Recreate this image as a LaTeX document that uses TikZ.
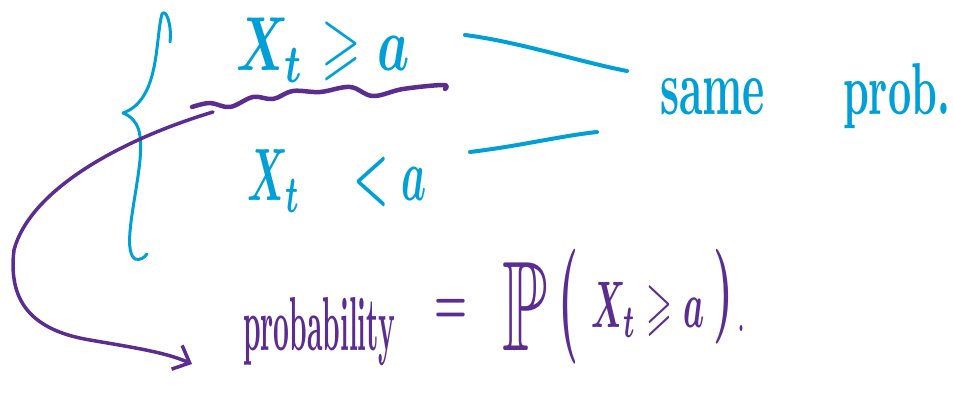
\documentclass[tikz,border=0pt]{standalone}
\usepackage{amssymb}
\usepackage{graphicx}
\usetikzlibrary{arrows.meta}
\definecolor{inkblue}{RGB}{0,160,215}
\definecolor{inkpurple}{RGB}{91,45,145}
\begin{document}
\begin{tikzpicture}[x=1pt,y=-1pt,
  txt/.style={inner sep=0pt, outer sep=0pt, draw=white, line width=0.1pt},
  bluetxt/.style={txt, text=inkblue},
  purpletxt/.style={txt, text=inkpurple},
  bluepen/.style={draw=inkblue, line cap=round, line join=round},
  purplepen/.style={draw=inkpurple, line cap=round, line join=round}]
\useasboundingbox (0,0) rectangle (953,409);

% blue texts
\node[bluetxt] (xge) at (323,50) {\resizebox*{173pt}{64pt}{\boldmath$X_t\geqslant a$}};
\node[bluetxt] (xlt) at (337.5,181) {\resizebox*{179pt}{62pt}{\boldmath$X_t\quad< a$}};
\node[bluetxt, anchor=base west] (same) at (660,115) {\resizebox{105pt}{36pt}{\bfseries same}};
\node[bluetxt, anchor=base west] (prob) at (843,115) {\resizebox{107pt}{51pt}{\bfseries prob.}};

% brace
\draw[bluepen, line width=3pt] (170,42) .. controls (172,25) and (166,8) .. (162,14)
  .. controls (155,40) and (160,100) .. (123,113)
  .. controls (140,120) and (142,135) .. (140,160)
  .. controls (136,200) and (122,250) .. (135,259)
  .. controls (140,261) and (145,257) .. (147,254);

% connector lines to "same prob."
\coordinate (l1a) at (465,35);
\coordinate (l1b) at (627,71);
\coordinate (l2a) at (470,152);
\coordinate (l2b) at (597,132);
\draw[bluepen, line width=4pt] (l1a) .. controls (520,42) and (580,62) .. (l1b);
\draw[bluepen, line width=4pt] (l2a) .. controls (520,146) and (560,136) .. (l2b);

% wavy underline
\draw[purplepen, line width=4.5pt] plot[smooth, tension=0.6] coordinates
  {(192,107) (210,103) (230,107) (253,97) (273,99) (293,91) (320,92) (350,87) (373,96) (403,89) (443,85) (445,89)};

% purple arrow
\coordinate (wstart) at (213,112);
\coordinate (atip) at (192,364);
\draw[purplepen, line width=3.5pt, -{Straight Barb[length=14pt,width=26pt,line width=3.5pt]}]
  (wstart) .. controls (120,140) and (30,190) .. (14,250)
  .. controls (8,300) and (30,330) .. (90,340)
  .. controls (130,347) and (165,352) .. (atip);

% bottom formula
\node[purpletxt, anchor=base west] (probability) at (243,350) {\resizebox{152pt}{53pt}{\bfseries probability}};
\node[purpletxt] (eq) at (451,311) {\resizebox*{33pt}{24pt}{\boldmath$=$}};
\node[purpletxt] (PP) at (525,306) {\resizebox*{45pt}{88pt}{$\mathbb{P}$}};
\node[purpletxt] (lp) at (568,307) {\resizebox*{20pt}{115pt}{\boldmath$($}};
\node[purpletxt] (xgeb) at (648,310) {\resizebox*{113pt}{55pt}{\boldmath$X_t\geqslant a$}};
\node[purpletxt] (rp) at (723,297) {\resizebox*{20pt}{95pt}{\boldmath$)$}};
\node[purpletxt] (dot) at (741,328) {\resizebox*{6pt}{6pt}{\bfseries .}};
\end{tikzpicture}
\end{document}
